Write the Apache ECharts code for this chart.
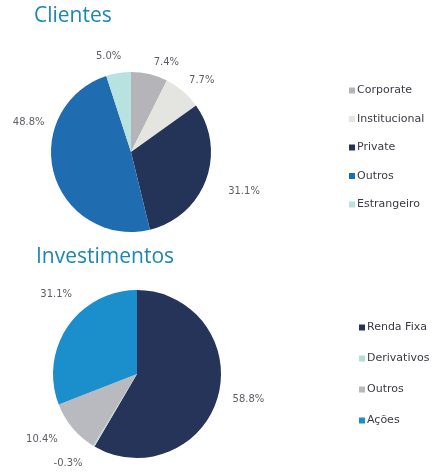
<!DOCTYPE html>
<html>
<head>
<meta charset="utf-8">
<script src="https://cdn.jsdelivr.net/npm/echarts@6/dist/echarts.min.js"></script>
<style>
  html, body { margin: 0; padding: 0; background: #ffffff; }
  #chart { width: 432px; height: 474px; }
</style>
</head>
<body>
<div id="chart"></div>
<script>
const clientesNames = ["Corporate", "Institucional", "Private", "Outros", "Estrangeiro"];
const clientesValues = [7.4, 7.7, 31.1, 48.8, 5.0];
const clientesColors = ["#b4b4b9", "#e4e4e1", "#243459", "#1f6db0", "#b8e2df"];

const investNames = ["Renda Fixa", "Derivativos", "Outros", "Ações"];
const investValues = [58.8, -0.3, 10.4, 31.1];
const investColors = ["#26345a", "#b6ddd5", "#b9b9c0", "#1a8fcc"];

// "Outros" appears in both pies; keep the legend entries apart
const investKeys = investNames.map(n => n === "Outros" ? "Outros " : n);

// nudges so the labels sit where the original placed them
const labelNudge = [
    [[-10, 2], [-14, 0], [-2, 7], [15, -55], [16, -3]],
    [[-10, 0], [7, 5], [7, 3], [27, -24]]
];

const labelText = p => p.data.raw.toFixed(1) + "%";

function pieData(names, values, colors) {
    return names.map((name, i) => ({
        name,
        raw: values[i],
        value: Math.abs(values[i]),
        itemStyle: { color: colors[i] }
    }));
}

function pieSeries(name, center, radius, data, nudge) {
    return {
        name,
        type: "pie",
        center,
        radius,
        startAngle: 90,
        clockwise: true,
        avoidLabelOverlap: false,
        label: {
            position: "outside",
            formatter: labelText,
            color: "#5e5e66",
            fontFamily: "DejaVu Sans",
            fontSize: 10
        },
        labelLine: { show: false, length: 14, length2: 6 },
        labelLayout: p => ({ dx: nudge[p.dataIndex][0], dy: nudge[p.dataIndex][1] }),
        data
    };
}

const legendText = { color: "#3a3a46", fontFamily: "DejaVu Sans", fontSize: 11, padding: [0, 0, 0, -3] };
const titleText = { color: "#1c86b4", fontFamily: "Open Sans", fontWeight: "normal", fontSize: 21 };

const chart = echarts.init(document.getElementById("chart"));

chart.setOption({
    animation: false,
    title: [{
        text: "Clientes",
        left: 34,
        top: 6,
        padding: 0,
        textStyle: titleText
    }, {
        text: "Investimentos",
        left: 36,
        top: 247,
        padding: 0,
        textStyle: titleText
    }],
    legend: [{
        orient: "vertical",
        left: 344,
        top: 80,
        itemWidth: 6,
        itemHeight: 6,
        itemGap: 17.5,
        icon: "rect",
        selectedMode: false,
        data: clientesNames,
        textStyle: legendText
    }, {
        orient: "vertical",
        left: 354,
        top: 317,
        itemWidth: 6,
        itemHeight: 6,
        itemGap: 20,
        icon: "rect",
        selectedMode: false,
        data: investKeys,
        textStyle: legendText
    }],
    series: [
        pieSeries("Clientes", [131, 152], 80, pieData(clientesNames, clientesValues, clientesColors), labelNudge[0]),
        pieSeries("Investimentos", [137, 374], 84, pieData(investKeys, investValues, investColors), labelNudge[1])
    ]
});
</script>
</body>
</html>
